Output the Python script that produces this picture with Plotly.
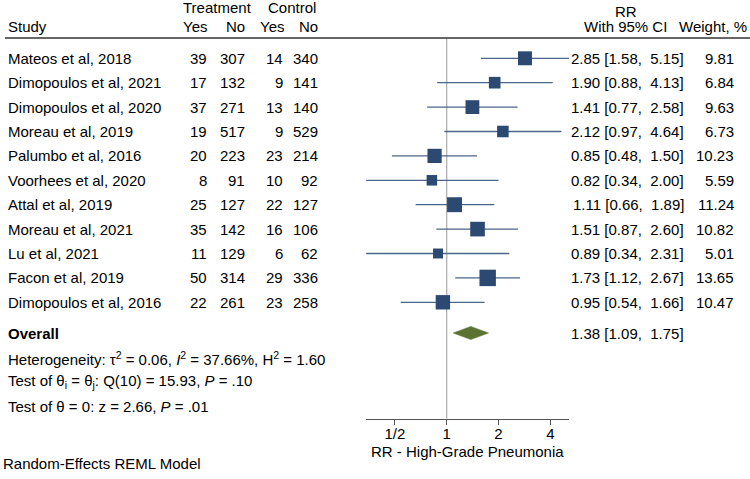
import math
import plotly.graph_objects as go

studies = ["Mateos et al, 2018", "Dimopoulos et al, 2021", "Dimopoulos et al, 2020",
           "Moreau et al, 2019", "Palumbo et al, 2016", "Voorhees et al, 2020",
           "Attal et al, 2019", "Moreau et al, 2021", "Lu et al, 2021",
           "Facon et al, 2019", "Dimopoulos et al, 2016"]
treat_yes = [39, 17, 37, 19, 20, 8, 25, 35, 11, 50, 22]
treat_no = [307, 132, 271, 517, 223, 91, 127, 142, 129, 314, 261]
ctrl_yes = [14, 9, 13, 9, 23, 10, 22, 16, 6, 29, 23]
ctrl_no = [340, 141, 140, 529, 214, 92, 127, 106, 62, 336, 258]
rr = [2.85, 1.90, 1.41, 2.12, 0.85, 0.82, 1.11, 1.51, 0.89, 1.73, 0.95]
lo = [1.58, 0.88, 0.77, 0.97, 0.48, 0.34, 0.66, 0.87, 0.34, 1.12, 0.54]
hi = [5.15, 4.13, 2.58, 4.64, 1.50, 2.00, 1.89, 2.60, 2.31, 2.67, 1.66]
weight = [9.81, 6.84, 9.63, 6.73, 10.23, 5.59, 11.24, 10.82, 5.01, 13.65, 10.47]
overall = (1.38, 1.09, 1.75)
tick_vals = [0.5, 1, 2, 4]
tick_text = ["1/2", "1", "2", "4"]

W, H = 750, 479
FONT = "Liberation Sans, Arial, Helvetica, sans-serif"
FS = 15
NAVY = "#2c4971"
LINEC = "#4d6588"
OLIVE = "#5b7232"

# pixel mapping for rows
row0, step = 58.3, 24.4
def row_of(py):
    return (py - row0) / step

n = len(studies)
rows = list(range(n))
overall_row = row_of(333)

fig = go.Figure()

# vertical reference line at RR = 1
fig.add_trace(go.Scatter(x=[1, 1], y=[row_of(38.5), row_of(418.7)], mode="lines",
                         line=dict(color="#a9a9a9", width=1.2), hoverinfo="skip",
                         showlegend=False, cliponaxis=False))

# CI lines
cx, cy = [], []
for i in rows:
    cx += [lo[i], hi[i], None]
    cy += [i, i, None]
fig.add_trace(go.Scatter(x=cx, y=cy, mode="lines", line=dict(color=LINEC, width=1.3),
                         showlegend=False, hoverinfo="skip", cliponaxis=False))

# squares
fig.add_trace(go.Scatter(x=rr, y=rows, mode="markers",
                         marker=dict(symbol="square", color=NAVY, opacity=1,
                                     size=[4.45 * math.sqrt(w) for w in weight],
                                     line=dict(width=0)),
                         showlegend=False, cliponaxis=False))

# overall diamond
dh = 0.27
fig.add_trace(go.Scatter(x=[overall[1], overall[0], overall[2], overall[0], overall[1]],
                         y=[overall_row, overall_row - dh, overall_row, overall_row + dh, overall_row],
                         mode="lines", fill="toself", fillcolor=OLIVE,
                         line=dict(color=OLIVE, width=0.5), showlegend=False,
                         cliponaxis=False))

ann = []
def txt(x_px, row, text, anchor="left", size=FS, **kw):
    ann.append(dict(x=x_px / W, y=row, xref="paper", yref="y", text=text,
                    showarrow=False, xanchor=anchor, yanchor="middle",
                    font=dict(family=FONT, size=size, color="#000"), **kw))

def ptxt(x_px, y_px, text, anchor="left", size=FS):
    ann.append(dict(x=x_px / W, y=1 - y_px / H, xref="paper", yref="paper", text=text,
                    showarrow=False, xanchor=anchor, yanchor="middle",
                    font=dict(family=FONT, size=size, color="#000")))

# headers
txt(217, row_of(7.5), "Treatment", "center")
txt(292, row_of(7.5), "Control", "center")
txt(6, row_of(26), "Study")
txt(209, row_of(26), "Yes", "right")
txt(247, row_of(26), "No", "right")
txt(286, row_of(26), "Yes", "right")
txt(320, row_of(26), "No", "right")
txt(626, row_of(11.5), "RR", "center")
txt(625, row_of(26), "With 95% CI", "center")
txt(749, row_of(26), "Weight, %", "right")

NB = "\u00a0"
for i in rows:
    txt(6, i, studies[i])
    txt(209, i, str(treat_yes[i]), "right")
    txt(247, i, str(treat_no[i]), "right")
    txt(285, i, str(ctrl_yes[i]), "right")
    txt(320, i, str(ctrl_no[i]), "right")
    txt(686, i, f"{rr[i]:.2f} [{lo[i]:.2f},{NB}{NB}{hi[i]:.2f}]", "right")
    txt(736, i, f"{weight[i]:.2f}", "right")

txt(6, overall_row, "<b>Overall</b>")
txt(686, overall_row, f"{overall[0]:.2f} [{overall[1]:.2f},{NB}{NB}{overall[2]:.2f}]", "right")
txt(6, row_of(358), "Heterogeneity: τ<sup>2</sup> = 0.06, <i>I</i><sup>2</sup> = 37.66%, H<sup>2</sup> = 1.60")
txt(6, row_of(381.7), "Test of θ<sub>i</sub> = θ<sub>j</sub>: Q(10) = 15.93, <i>P</i> = .10")
txt(6, row_of(406.5), "Test of θ = 0: z = 2.66, <i>P</i> = .01")
ptxt(1, 463.5, "Random-Effects REML Model")
ptxt(467.7, 451, "RR - High-Grade Pneumonia", "center")

# header rule
shapes = [dict(type="line", xref="paper", yref="paper", x0=5 / W, x1=1,
               y0=1 - 38 / H, y1=1 - 38 / H, line=dict(color="#333", width=1.5))]

fig.update_layout(
    width=W, height=H, margin=dict(l=0, r=0, t=0, b=0),
    paper_bgcolor="white", plot_bgcolor="white",
    font=dict(family=FONT, size=FS, color="#000"),
    annotations=ann, shapes=shapes, showlegend=False,
    xaxis=dict(type="log", domain=[366.1 / W, 569.2 / W],
               range=[math.log10(min(lo)), math.log10(max(hi))],
               tickvals=tick_vals, ticktext=tick_text, ticks="outside", ticklen=5,
               ticklabelstandoff=-4,
               tickcolor="#555", showline=True, linecolor="#555", linewidth=1.2,
               showgrid=False, zeroline=False, automargin=False,
               tickfont=dict(family=FONT, size=FS, color="#000")),
    yaxis=dict(domain=[(H - 418.7) / H, 1], range=[row_of(418.7), row_of(0)],
               visible=False, showgrid=False, zeroline=False, automargin=False),
)

fig.write_html("out.html", config={"displayModeBar": False},
               post_script="document.body.style.margin = '0px';")
